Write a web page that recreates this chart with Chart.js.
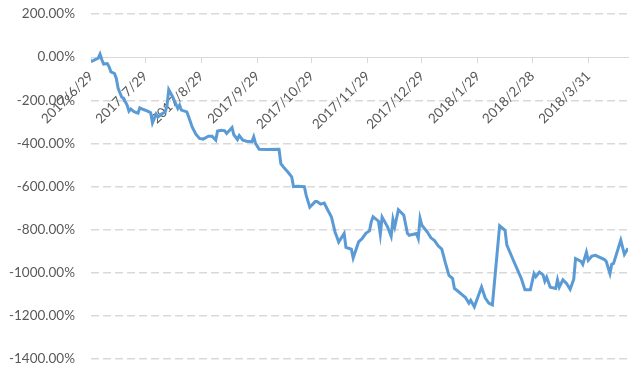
<!DOCTYPE html>
<html lang="en">
<head>
    <meta charset="UTF-8">
    <title>Cumulative Return</title>
    <script src="https://cdn.jsdelivr.net/npm/chart.js"></script>
    <style>
        body {
            margin: 0;
            padding: 0;
            background: #ffffff;
        }
        #wrap {
            width: 639px;
            height: 375px;
        }
    </style>
</head>
<body>
    <div id="wrap"><canvas id="lineChart"></canvas></div>

    <script>
        // Tick labels on the date axis and their day offsets from 2017/6/29
        const tickLabels = ['2017/6/29', '2017/7/29', '2017/8/29', '2017/9/29', '2017/10/29',
            '2017/11/29', '2017/12/29', '2018/1/29', '2018/2/28', '2018/3/31'];
        const tickDays = [0, 30, 61, 92, 122, 153, 183, 214, 244, 275];

        // Series: day offset and value in percent
        const days = [0, 4, 5, 6, 7, 9, 10, 11, 13, 14, 15, 17, 18, 20, 21, 22, 24, 26, 27, 29,
            31, 33, 34, 36, 37, 39, 41, 42, 43, 45, 46, 48, 49, 50, 53, 54, 56, 58, 60, 62,
            65, 67, 69, 70, 72, 74, 75, 78, 79, 81, 82, 84, 86, 89, 90, 91, 93, 97, 104, 105,
            107, 109, 111, 112, 114, 118, 119, 121, 124, 125, 127, 129, 131, 133, 135, 136, 137, 140, 141, 144,
            145, 148, 150, 152, 154, 155, 156, 159, 160, 161, 164, 166, 167, 168, 170, 173, 175, 176, 180, 181,
            182, 183, 186, 188, 190, 192, 194, 196, 198, 200, 201, 203, 206, 207, 209, 210, 212, 216, 218, 220,
            222, 226, 229, 230, 234, 238, 240, 243, 245, 246, 248, 250, 251, 252, 254, 257, 258, 259, 261, 263,
            265, 267, 268, 271, 272, 274, 275, 277, 279, 284, 285, 287, 288, 289, 293, 295, 297];
        const returns = [-21, -5, 14, -12, -32, -30, -45, -68, -76, -99, -145, -186, -190, -223, -251, -241, -254, -260, -235, -243,
            -249, -258, -305, -264, -278, -264, -255, -227, -151, -181, -200, -238, -223, -246, -254, -277, -325, -357, -377, -380,
            -367, -367, -385, -343, -339, -342, -354, -327, -360, -382, -364, -385, -390, -392, -370, -400, -427, -428, -427, -494,
            -516, -534, -555, -601, -599, -601, -640, -696, -670, -670, -682, -677, -710, -742, -812, -834, -858, -818, -882, -891,
            -932, -857, -841, -817, -806, -764, -740, -761, -821, -742, -787, -831, -753, -787, -708, -733, -817, -826, -818, -841,
            -748, -780, -811, -838, -851, -875, -890, -954, -1012, -1027, -1073, -1086, -1107, -1114, -1141, -1128, -1158, -1066, -1116, -1141,
            -1149, -782, -803, -872, -950, -1027, -1079, -1079, -1004, -1019, -997, -1010, -1039, -1021, -1067, -1073, -1033, -1067, -1033, -1050,
            -1077, -1030, -934, -947, -961, -905, -942, -923, -919, -939, -948, -1004, -961, -957, -849, -915, -886];

        const axisColor = '#d9d9d9';
        const textColor = '#595959';
        const fontFamily = 'Lato, "Open Sans", sans-serif';

        const points = days.map((d, i) => ({ x: d, y: returns[i] }));

        const ctx = document.getElementById('lineChart').getContext('2d');
        const lineChart = new Chart(ctx, {
            type: 'line',
            data: {
                datasets: [{
                    data: points,
                    borderColor: '#5b9bd5',
                    borderWidth: 3,
                    pointRadius: 0,
                    tension: 0,
                    fill: false
                }]
            },
            options: {
                responsive: true,
                maintainAspectRatio: false,
                animation: false,
                layout: {
                    padding: { top: 14, right: 11, bottom: 16, left: 0 }
                },
                plugins: {
                    legend: { display: false },
                    tooltip: { enabled: false }
                },
                scales: {
                    x: {
                        type: 'linear',
                        position: { y: 0 },
                        min: 0,
                        max: 297,
                        afterBuildTicks: (scale) => {
                            scale.ticks = tickDays.map(v => ({ value: v }));
                        },
                        ticks: {
                            autoSkip: false,
                            minRotation: 45,
                            maxRotation: 45,
                            padding: 6,
                            color: textColor,
                            font: { family: fontFamily, size: 13.5 },
                            callback: (value, index) => tickLabels[index]
                        },
                        grid: {
                            drawOnChartArea: false,
                            drawTicks: true,
                            tickLength: 5,
                            color: axisColor
                        },
                        border: { display: true, color: axisColor, width: 1 }
                    },
                    y: {
                        min: -1400,
                        max: 200,
                        afterFit: (scale) => {
                            scale.width = 91;
                        },
                        ticks: {
                            stepSize: 200,
                            padding: 3,
                            color: textColor,
                            font: { family: fontFamily, size: 13.5 },
                            callback: (value) => value.toFixed(2) + '%'
                        },
                        grid: {
                            drawTicks: true,
                            tickLength: 13,
                            tickColor: 'rgba(0,0,0,0)',
                            lineWidth: 1.5,
                            color: (c) => (c.tick && c.tick.value === 0) ? 'rgba(0,0,0,0)' : axisColor
                        },
                        border: { display: false, dash: [8, 4] }
                    }
                }
            }
        });
    </script>
</body>
</html>
